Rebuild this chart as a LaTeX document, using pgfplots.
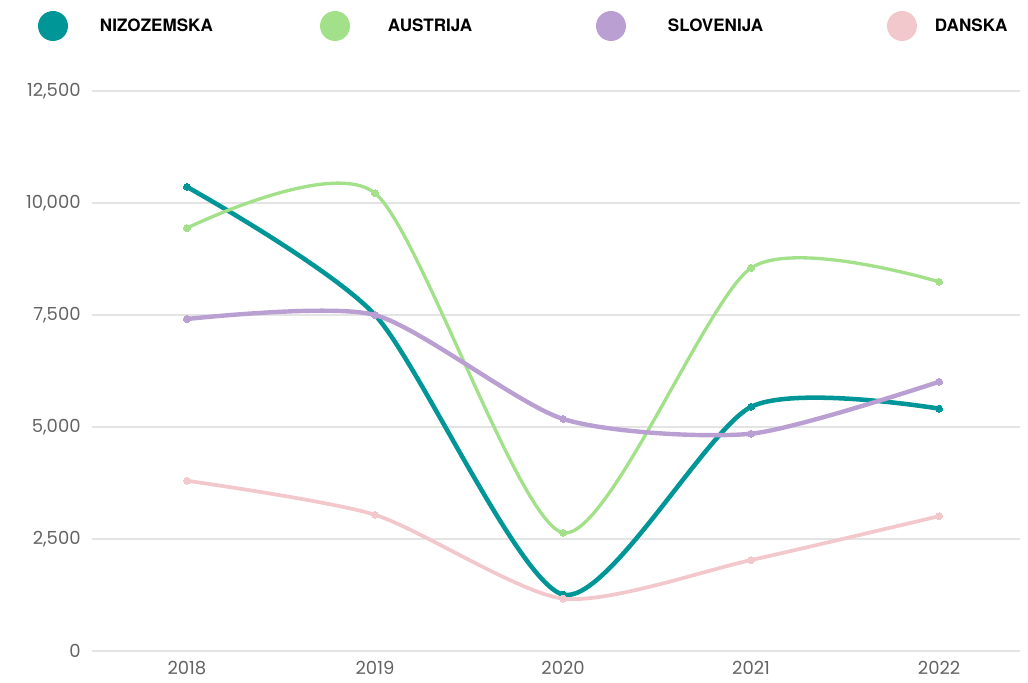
\documentclass[border=0pt]{standalone}
\usepackage{pgfplots}
\pgfplotsset{compat=1.18}
\usepackage{fontspec}
\setmainfont{Poppins}
\newfontfamily\legfont{TeX Gyre Heros}
\definecolor{cNL}{RGB}{0,150,152}
\definecolor{cAT}{RGB}{163,224,138}
\definecolor{cSI}{RGB}{186,160,210}
\definecolor{cDK}{RGB}{242,200,204}
\definecolor{gridc}{RGB}{228,228,228}
\definecolor{tickc}{RGB}{100,100,100}
\begin{document}
\begin{tikzpicture}
\begin{axis}[
  scale only axis,
  width=696pt, height=420pt,
  xmin=2017.495, xmax=2022.43,
  ymin=0, ymax=12500,
  axis x line*=bottom, axis y line*=left,
  axis line style={draw=none},
  xtick={2018,2019,2020,2021,2022},
  xticklabels={2018,2019,2020,2021,2022},
  ytick={0,2500,5000,7500,10000,12500},
  scaled y ticks=false,
  yticklabel={\pgfmathprintnumber[fixed, precision=0, 1000 sep={,}, assume math mode=true]{\tick}},
  ymajorgrids,
  grid style={gridc, line width=0.8pt},
  major tick length=0pt,
  tick label style={font=\fontsize{13.5pt}{15pt}\selectfont, text=tickc},
  yticklabel style={xshift=-5pt},
  xticklabel style={yshift=-4.5pt},
  clip=false,
  legend columns=4,
  legend style={draw=none, fill=none, inner sep=0pt, outer sep=0pt,
    at={(axis description cs:0,1)}, anchor=west, xshift=-40.5pt, yshift=48.75pt,
    font=\legfont\bfseries\fontsize{12.8pt}{14pt}\selectfont,
    nodes={inner sep=0pt, outer sep=0pt},
    /tikz/every odd column/.append style={column sep=24pt}},
  legend image code/.code={\fill[draw=none] (11.25pt,0pt) circle (11.25pt);},
  every axis plot/.append style={smooth, tension=0.42, mark=*, mark size=2.6pt, mark options={solid, line width=0pt}},
]
\addplot[cNL, line width=3.4pt] coordinates {(2018,10360) (2019,7500) (2020,1260) (2021,5450) (2022,5410)};
\addlegendentry{\makebox[165pt][l]{NIZOZEMSKA}}
\addplot[cAT, line width=2.5pt] coordinates {(2018,9440) (2019,10220) (2020,2640) (2021,8550) (2022,8240)};
\addlegendentry{\makebox[160.5pt][l]{\hspace{4.5pt}AUSTRIJA}}
\addplot[cSI, line width=3.3pt] coordinates {(2018,7410) (2019,7500) (2020,5180) (2021,4850) (2022,6010)};
\addlegendentry{\makebox[171.75pt][l]{\hspace{7.5pt}SLOVENIJA}}
\addplot[cDK, line width=2.8pt] coordinates {(2018,3800) (2019,3040) (2020,1170) (2021,2030) (2022,3010)};
\addlegendentry{\hspace{-10.5pt}DANSKA}
\end{axis}
\pgfresetboundingbox
\path[use as bounding box] ([xshift=-69pt,yshift=-23.25pt]current axis.south west) rectangle ([xshift=702pt,yshift=68.25pt]current axis.north west);
\end{tikzpicture}
\end{document}
